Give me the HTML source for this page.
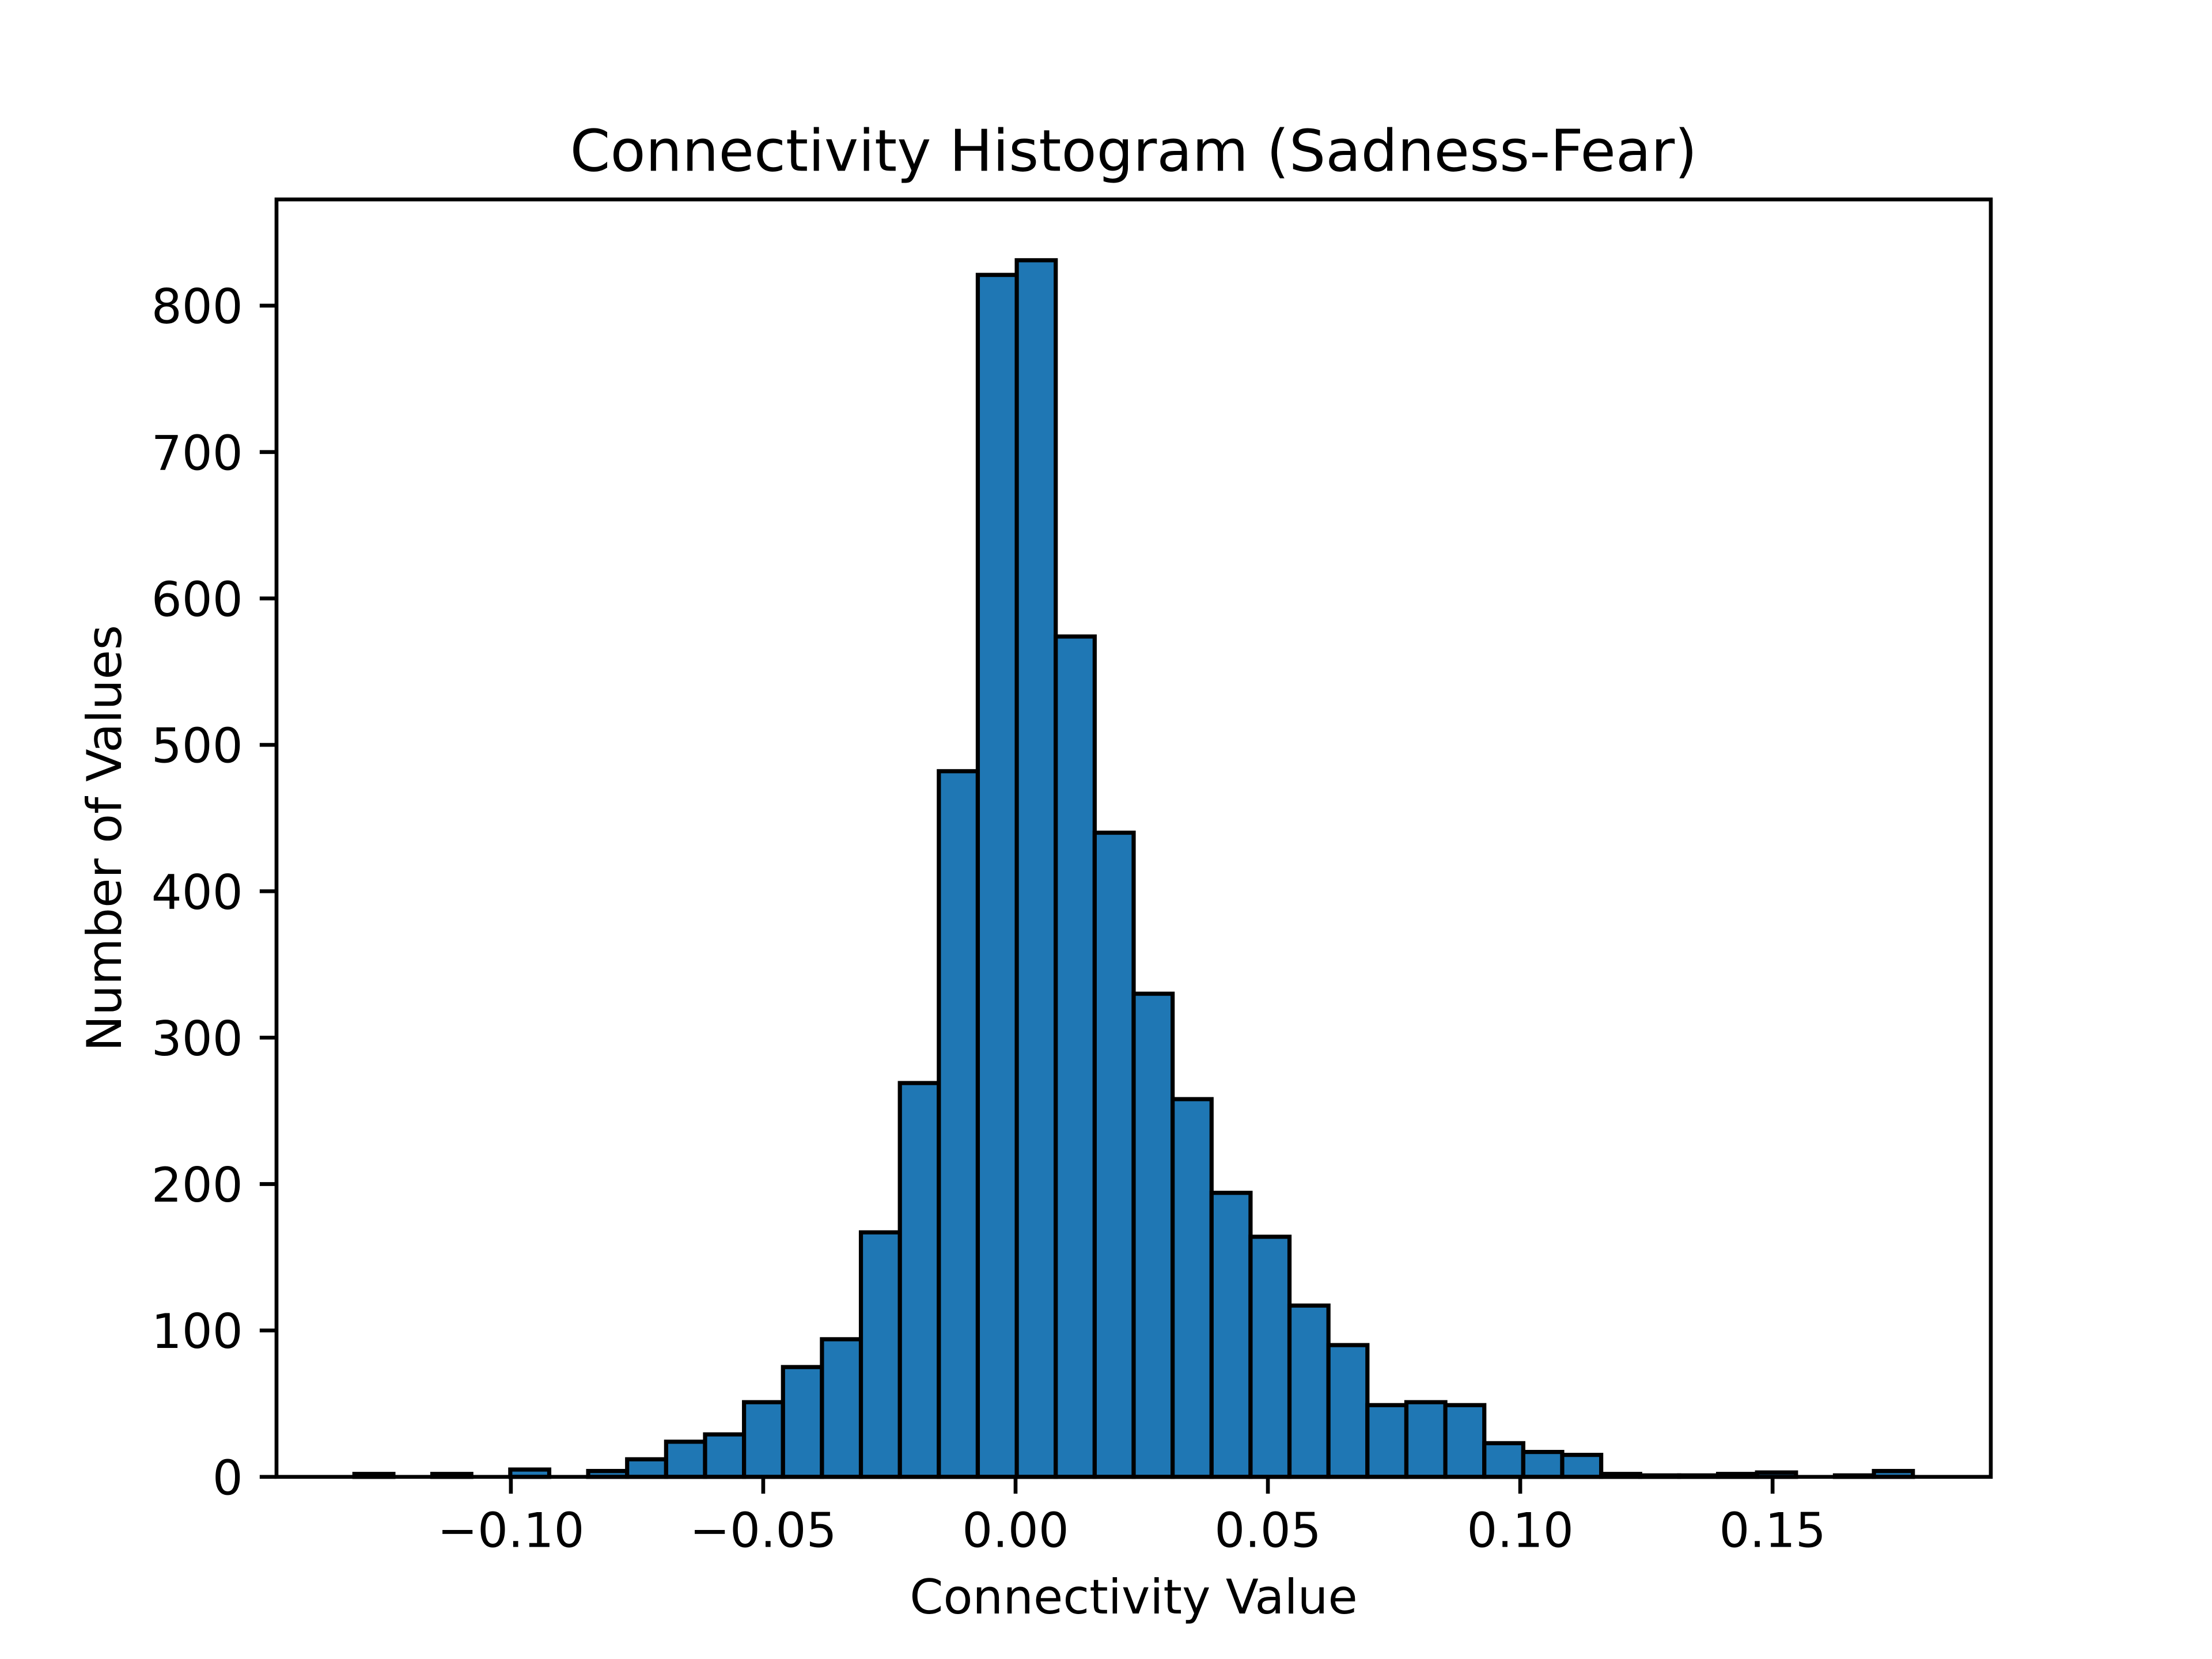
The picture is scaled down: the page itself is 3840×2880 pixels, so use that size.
<!DOCTYPE html>
<html><head><meta charset="utf-8"><style>html,body{margin:0;padding:0;background:#fff}svg{display:block}</style></head>
<body>
<svg id="chart" width="3840" height="2880" viewBox="0 0 640 480" xmlns="http://www.w3.org/2000/svg" font-family="'DejaVu Sans','Liberation Sans',sans-serif">
<rect width="640" height="480" fill="#fff"/>
<g transform="translate(0,4.9)">
<text x="328" y="44.5" font-size="16.67" text-anchor="middle">Connectivity Histogram (Sadness-Fear)</text>
<g id="bars"></g>
<g id="xticks"></g>
<g id="yticks"></g>
<rect x="80" y="52.8" width="496" height="369.6" fill="none" stroke="#000" stroke-width="1.11"/>
<text transform="translate(35,237.6) rotate(-90)" font-size="13.89" text-anchor="middle">Number of Values</text>
</g>
<text x="328" y="466.8" font-size="13.89" text-anchor="middle">Connectivity Value</text>
</svg>
<script>
const binStart = -0.131;
const binEnd = 0.1778;
const counts = [2,0,2,0,5,0,4,12,24,29,51,75,94,167,269,482,821,831,574,440,330,258,194,164,117,90,49,51,49,23,17,15,2,1,1,2,3,0,1,4];
const xTickValues = [-0.10,-0.05,0.00,0.05,0.10,0.15];
const xTickLabels = ["\u22120.10","\u22120.05","0.00","0.05","0.10","0.15"];
const yTickValues = [0,100,200,300,400,500,600,700,800];
const yTickLabels = ["0","100","200","300","400","500","600","700","800"];

const NS = "http://www.w3.org/2000/svg";
const L = 80, R = 576, T = 52.8, B = 422.4;
const span = binEnd - binStart;
const xmin = binStart - 0.05 * span, xmax = binEnd + 0.05 * span;
const ymax = Math.max(...counts) * 1.05;
function xs(v){ return L + (v - xmin) / (xmax - xmin) * (R - L); }
function ys(v){ return B - v / ymax * (B - T); }
function mk(tag, attrs, parent){ const e = document.createElementNS(NS, tag); for (const k in attrs) e.setAttribute(k, attrs[k]); parent.appendChild(e); return e; }

const bw = span / counts.length;
const bars = document.getElementById('bars');
counts.forEach((c, i) => {
  const x0 = xs(binStart + i * bw), x1 = xs(binStart + (i + 1) * bw);
  const r = mk('rect', {x: x0, y: ys(c), width: x1 - x0, height: B - ys(c), fill: '#1f77b4', stroke: '#000', 'stroke-width': 1.2}, bars);
  
  
});

const xg = document.getElementById('xticks');
xTickValues.forEach((v, i) => {
  const x = xs(v);
  const t = mk('line', {x1: x, x2: x, y1: B, y2: B + 4.86, stroke: '#000', 'stroke-width': 1.11}, xg);
  
  
  const l = mk('text', {x: x, y: B + 9.7 + 10.6, 'font-size': 13.89, 'text-anchor': 'middle'}, xg);
  l.textContent = xTickLabels[i];
  
  
});

const yg = document.getElementById('yticks');
yTickValues.forEach((v, i) => {
  const y = ys(v);
  const t = mk('line', {x1: L - 4.86, x2: L, y1: y, y2: y, stroke: '#000', 'stroke-width': 1.11}, yg);
  
  
  const l = mk('text', {x: L - 9.7, y: y + 5.1, 'font-size': 13.89, 'text-anchor': 'end'}, yg);
  l.textContent = yTickLabels[i];
  
  
});
</script>
</body></html>
